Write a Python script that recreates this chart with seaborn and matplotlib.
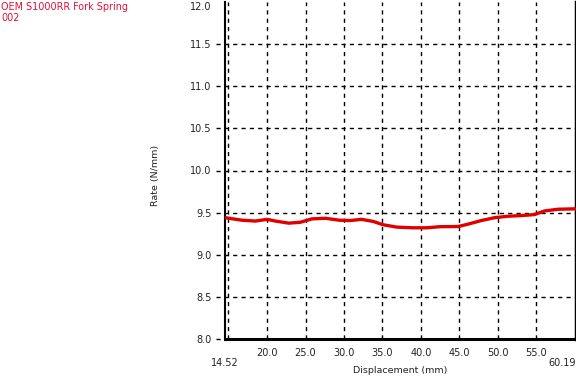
import matplotlib
matplotlib.use("Agg")
import matplotlib.pyplot as plt
import seaborn as sns
import pandas as pd

# ---- data ----
displacement = [14.56, 16.7, 18.46, 20.0, 21.07, 22.8, 24.3, 25.84, 27.57, 29.4,
                30.78, 32.3, 33.82, 35.1, 36.86, 39.02, 40.76, 42.5, 44.85,
                46.14, 47.87, 49.61, 51.34, 53.07, 54.81, 56.11, 57.84, 60.0]
rate = [9.44, 9.41, 9.40, 9.42, 9.40, 9.375, 9.385, 9.426, 9.433, 9.41,
        9.406, 9.42, 9.395, 9.356, 9.328, 9.32, 9.32, 9.333, 9.335,
        9.363, 9.406, 9.44, 9.457, 9.465, 9.477, 9.52, 9.54, 9.545]
x_min, x_max = 14.52, 60.19
x_ticks = [20.0, 25.0, 30.0, 35.0, 40.0, 45.0, 50.0, 55.0]
y_ticks = [8.0, 8.5, 9.0, 9.5, 10.0, 10.5, 11.0, 11.5, 12.0]
title_text = "OEM S1000RR Fork Spring\n002"
x_label = "Displacement (mm)"
y_label = "Rate (N/mm)"

df = pd.DataFrame({"Displacement": displacement, "Rate": rate})

sns.set_style("white")
plt.rcParams["font.family"] = ["DejaVu Sans"]
fs = 7.0

fig = plt.figure(figsize=(5.76, 3.83), dpi=100)
ax = fig.add_axes([225 / 576, 44 / 383, 351 / 576, 337 / 383])

sns.lineplot(data=df, x="Displacement", y="Rate", ax=ax, color="#E00000",
             linewidth=2.4, zorder=5)

ax.set_xlim(x_min, x_max)
ax.set_ylim(8.0, 12.0)

# grid lines (dashed, black); horizontal ones extend left like tick marks
dash = (0, (3, 3))
for v in y_ticks[:-1]:
    ax.axhline(v, xmin=-0.027, xmax=1, color="black", lw=1, ls=dash,
               clip_on=False, zorder=2)
for v in [x_min] + x_ticks:
    ax.axvline(v + (0.45 if v == x_min else 0), color="black", lw=1, ls=dash, zorder=2)

ax.set_yticks(y_ticks)
ax.set_yticklabels([f"{v:.1f}" for v in y_ticks])
ax.get_yticklabels()[-1].set_verticalalignment("top")
ax.set_xticks(x_ticks)
ax.set_xticklabels([f"{v:.1f}" for v in x_ticks])
ax.tick_params(axis="y", length=0, pad=9.5, labelsize=fs, labelcolor="#222222")
ax.tick_params(axis="x", length=0, pad=6.5, labelsize=fs, labelcolor="#222222")

trans = ax.get_xaxis_transform()
ax.text(x_min, -0.056, f"{x_min:.2f}", transform=trans, ha="center", va="top",
        fontsize=fs, color="#222222")
ax.text(x_max, -0.056, f"{x_max:.2f}", transform=trans, ha="right", va="top",
        fontsize=fs, color="#222222")

ax.set_xlabel(x_label, fontsize=6.8, color="#222222")
ax.set_ylabel(y_label, fontsize=6.8, color="#222222")
ax.xaxis.set_label_coords(0.5, -0.08)
ax.yaxis.set_label_coords(-0.185, 0.485)

for side in ["left", "bottom", "right"]:
    ax.spines[side].set_visible(True)
    ax.spines[side].set_color("black")
ax.spines["top"].set_visible(False)
ax.spines["left"].set_linewidth(1.5)
ax.spines["bottom"].set_linewidth(2.2)
ax.spines["right"].set_linewidth(2.5)

fig.text(0.002, 1 - 2 / 383, title_text, ha="left", va="top", color="#E0103C",
         fontsize=6.9, linespacing=1.15)

fig.savefig("out.png", dpi=100)
